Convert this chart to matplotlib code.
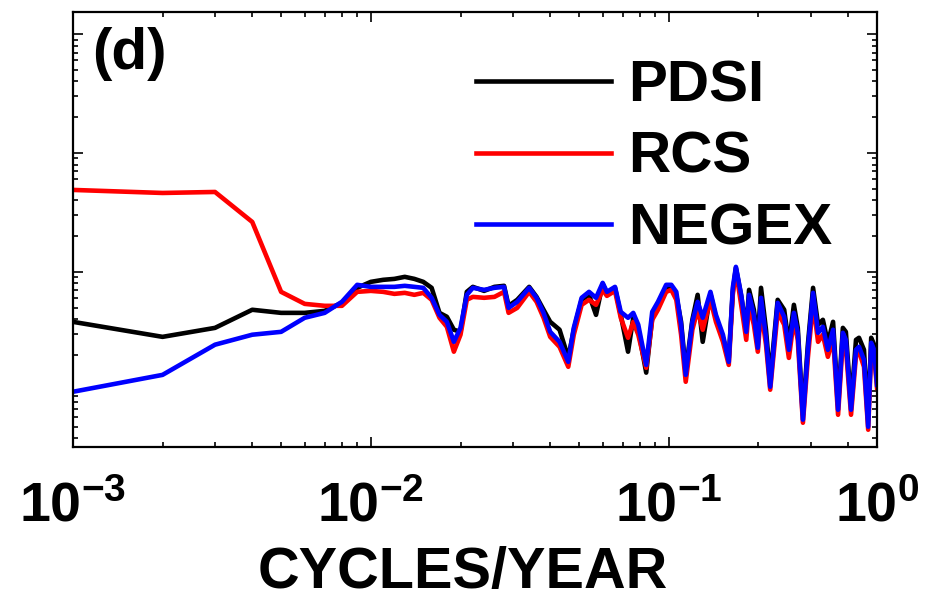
import numpy as np
import matplotlib.pyplot as plt
from matplotlib.ticker import LogLocator, NullFormatter

plt.rcParams['font.family'] = 'Liberation Sans'
plt.rcParams['font.weight'] = 'bold'
plt.rcParams['axes.labelweight'] = 'bold'
plt.rcParams['mathtext.fontset'] = 'custom'
plt.rcParams['mathtext.rm'] = 'Liberation Sans:bold'
plt.rcParams['mathtext.it'] = 'Liberation Sans:bold'
plt.rcParams['mathtext.bf'] = 'Liberation Sans:bold'

# frequency (cycles/year) and spectral power of the three series
freq = np.array([0.001, 0.002, 0.003, 0.004, 0.005, 0.006, 0.007, 0.008, 0.009, 0.010,
                 0.011, 0.012, 0.013, 0.014, 0.015, 0.016, 0.017, 0.018, 0.019, 0.020,
                 0.021, 0.022, 0.024, 0.026, 0.028, 0.029, 0.031, 0.034, 0.036, 0.038,
                 0.040, 0.043, 0.046, 0.048, 0.051, 0.054, 0.057, 0.060, 0.062, 0.066,
                 0.069, 0.073, 0.076, 0.079, 0.084, 0.088, 0.092, 0.098, 0.102, 0.106,
                 0.110, 0.114, 0.120, 0.125, 0.130, 0.138, 0.144, 0.152, 0.159, 0.164,
                 0.168, 0.175, 0.182, 0.186, 0.193, 0.199, 0.204, 0.212, 0.219, 0.232,
                 0.244, 0.253, 0.263, 0.271, 0.282, 0.293, 0.305, 0.317, 0.329, 0.342,
                 0.356, 0.370, 0.384, 0.393, 0.409, 0.425, 0.435, 0.452, 0.467, 0.478,
                 0.489, 0.500])

pdsi = [0.380, 0.284, 0.338, 0.480, 0.452, 0.452, 0.470, 0.549, 0.734, 0.824,
        0.857, 0.873, 0.908, 0.873, 0.824, 0.734, 0.452, 0.419, 0.326, 0.313,
        0.679, 0.748, 0.692, 0.748, 0.763, 0.518, 0.582, 0.748, 0.616, 0.480,
        0.380, 0.326, 0.189, 0.326, 0.582, 0.641, 0.435, 0.793, 0.653, 0.734,
        0.435, 0.213, 0.411, 0.326, 0.142, 0.411, 0.498, 0.748, 0.748, 0.628,
        0.380, 0.144, 0.395, 0.641, 0.258, 0.653, 0.411, 0.279, 0.189, 0.679,
        1.080, 0.628, 0.326, 0.706, 0.480, 0.268, 0.734, 0.326, 0.124, 0.582,
        0.480, 0.244, 0.528, 0.338, 0.0628, 0.244, 0.734, 0.359, 0.395, 0.253,
        0.380, 0.0762, 0.338, 0.313, 0.0762, 0.268, 0.279, 0.221, 0.0571, 0.279,
        0.244, 0.129]

rcs = [4.89, 4.61, 4.70, 2.63, 0.679, 0.538, 0.518, 0.518, 0.679, 0.692,
       0.679, 0.653, 0.666, 0.641, 0.666, 0.582, 0.411, 0.345, 0.213, 0.296,
       0.582, 0.616, 0.605, 0.616, 0.679, 0.452, 0.498, 0.679, 0.560, 0.411,
       0.284, 0.234, 0.159, 0.296, 0.528, 0.582, 0.528, 0.706, 0.628, 0.692,
       0.411, 0.279, 0.380, 0.296, 0.156, 0.395, 0.480, 0.679, 0.706, 0.582,
       0.296, 0.119, 0.326, 0.480, 0.326, 0.582, 0.380, 0.258, 0.165, 0.641,
       1.039, 0.528, 0.268, 0.528, 0.359, 0.213, 0.480, 0.244, 0.102, 0.461,
       0.359, 0.189, 0.395, 0.268, 0.0538, 0.189, 0.549, 0.258, 0.296, 0.193,
       0.279, 0.0628, 0.268, 0.230, 0.0628, 0.197, 0.213, 0.159, 0.0470, 0.221,
       0.197, 0.106]

negex = [0.098, 0.136, 0.244, 0.296, 0.313, 0.411, 0.452, 0.560, 0.778, 0.748,
         0.748, 0.748, 0.763, 0.748, 0.734, 0.605, 0.435, 0.380, 0.258, 0.338,
         0.641, 0.734, 0.706, 0.734, 0.748, 0.498, 0.560, 0.734, 0.605, 0.452,
         0.313, 0.258, 0.175, 0.338, 0.605, 0.679, 0.605, 0.808, 0.679, 0.748,
         0.461, 0.411, 0.452, 0.359, 0.165, 0.461, 0.560, 0.778, 0.778, 0.679,
         0.359, 0.136, 0.380, 0.560, 0.411, 0.679, 0.435, 0.296, 0.175, 0.734,
         1.102, 0.641, 0.313, 0.641, 0.435, 0.230, 0.605, 0.279, 0.108, 0.549,
         0.419, 0.221, 0.452, 0.307, 0.0571, 0.221, 0.666, 0.307, 0.345, 0.221,
         0.326, 0.0692, 0.307, 0.268, 0.0692, 0.221, 0.234, 0.182, 0.0498, 0.253,
         0.221, 0.112]

fig = plt.figure(figsize=(9.34, 6.07), dpi=100)
ax = fig.add_axes([0.078, 0.264, 0.861, 0.716])

ax.loglog(freq, pdsi, color='k', lw=3.3, label='PDSI')
ax.loglog(freq, rcs, color='r', lw=3.3, label='RCS')
ax.loglog(freq, negex, color='b', lw=3.3, label='NEGEX')

ax.set_xlim(1e-3, 0.5)
ax.set_ylim(0.0338, 153)

ax.set_xticks([1e-3, 1e-2, 1e-1, 0.5])
ax.set_xticklabels(['$10^{-3}$', '$10^{-2}$', '$10^{-1}$', '$10^{0}$'], fontsize=40)
ax.xaxis.set_minor_locator(LogLocator(base=10, subs=np.arange(2, 10), numticks=20))
ax.xaxis.set_minor_formatter(NullFormatter())
ax.yaxis.set_major_locator(LogLocator(base=10, numticks=20))
ax.yaxis.set_minor_locator(LogLocator(base=10, subs=np.arange(2, 10), numticks=20))
ax.yaxis.set_major_formatter(NullFormatter())
ax.yaxis.set_minor_formatter(NullFormatter())

ax.tick_params(which='both', direction='in', top=True, right=True, width=1.2)
ax.tick_params(which='major', length=7, pad=25)
ax.tick_params(which='minor', length=3.5)
for s in ax.spines.values():
    s.set_linewidth(1.6)

ax.set_xlabel('CYCLES/YEAR', fontsize=41.5)
ax.xaxis.set_label_coords(0.485, -0.228)
ax.text(0.024, 0.965, '(d)', transform=ax.transAxes, fontsize=42, va='top', ha='left')

ax.legend(loc='upper right', frameon=False, fontsize=42, handlelength=2.3,
          handletextpad=0.3, labelspacing=0.3, borderaxespad=0.3,
          bbox_to_anchor=(0.995, 0.985))

fig.savefig('out.png', dpi=100)
